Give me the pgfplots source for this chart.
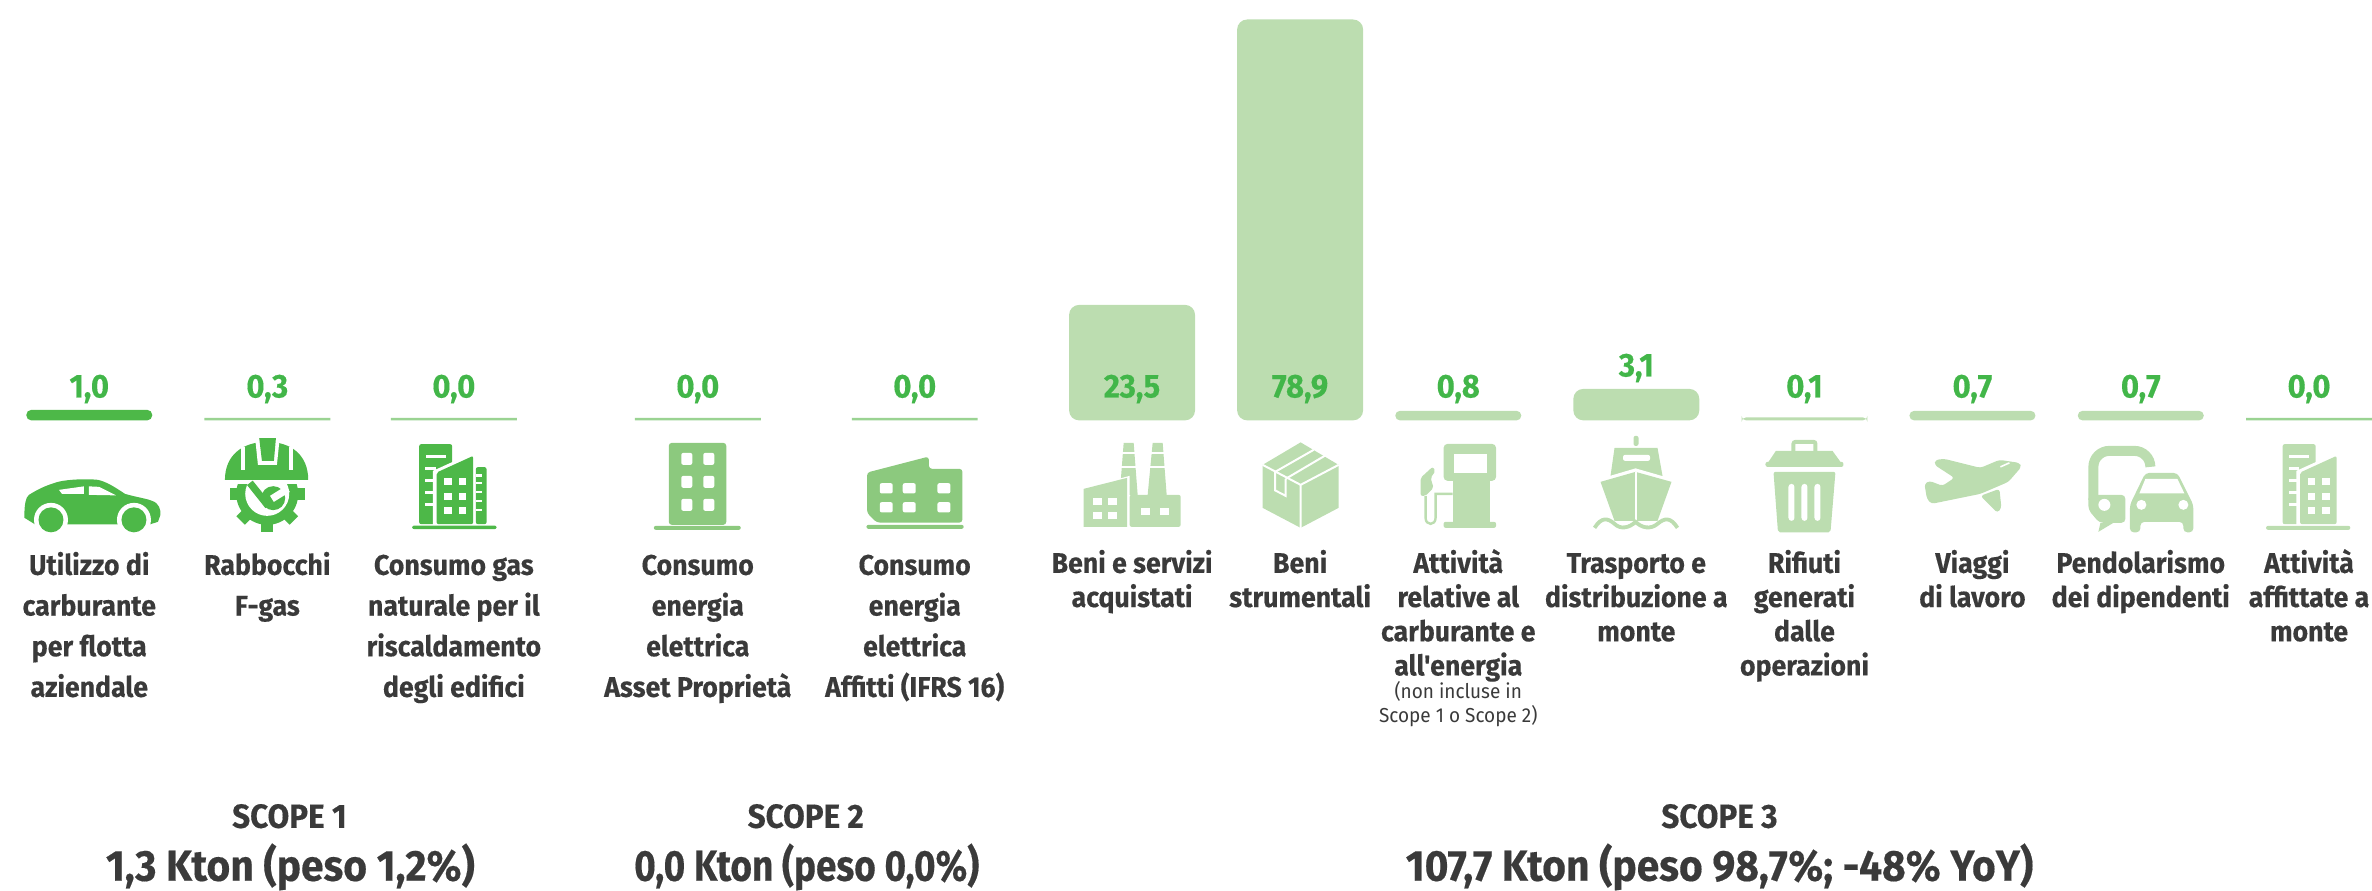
\documentclass[border=0pt]{standalone}
\usepackage{fontspec}
\usepackage{pgfplots}
\usepackage{pgfplotstable}
\pgfplotsset{compat=1.18}
\newfontfamily\tfont[FakeStretch=0.94,BoldFeatures={FakeBold=0.35}]{Fira Sans}
\definecolor{sdark}{HTML}{4DB848}
\definecolor{smid}{HTML}{8CC97E}
\definecolor{slight}{HTML}{BCDDB0}
\definecolor{thinmid}{HTML}{9AD392}
\definecolor{lab}{HTML}{42B649}
\definecolor{txt}{HTML}{3A3A3A}

% bar heights as drawn, in picture pixels above the base line
\pgfplotstableread{
x h
89.3 10.5
}\barsdark
\pgfplotstableread{
x h
267.4 2.5
454 2.5
698 2.5
915 2.5
2309.7 2.5
}\barsmid
\pgfplotstableread{
x h
1132.4 115.5
1300.5 401
1636.8 31.5
}\barslight
\pgfplotstableread{
x h
1458.7 9.5
1805 3
1973 9.5
2141.4 9.5
}\barslow
\pgfplotstableread{
x ly v
89.3 22.5 1,0
267.4 22.5 0,3
454 22.5 0,0
698 22.5 0,0
915 22.5 0,0
1132.4 22.5 23,5
1300.5 22.5 78,9
1458.7 22.5 0,8
1636.8 43.5 3,1
1805 22.5 0,1
1973 22.5 0,7
2141.4 22.5 0,7
2309.7 22.5 0,0
}\barlabels

\newcommand\cat[4]{\foreach \t [count=\i from 0] in {#4} \node[catl] at (#1,{#2+\i*#3}) {\t};}

% tall building with slanted block, used for icons 3 and 13
\newcommand\towerb[2]{
\begin{scope}[shift={(#2,0)}]
\fill[#1,rounded corners=1pt] (419.3,444.3) rectangle (452.3,524.3);
\fill[white] (426,454.7) rectangle (445.7,458.3);
\foreach \y in {468.3,480.7,492.3,504.7} \fill[white] (425.3,\y-1.5) rectangle (436,\y+1.5);
\fill[white] (433,471) -- (475,452) -- (475,527) -- (433,527) -- cycle;
\fill[#1,rounded corners=1pt] (436.7,524.3) -- (436.7,472.7) -- (473.3,456) -- (473.3,524.3) -- cycle;
\foreach \y in {477.7,492.7,507.3} \foreach \x in {444.3,458.7}
  \fill[white] (\x,\y) rectangle (\x+7.6,\y+7.3);
\end{scope}}

\begin{document}
\begin{tikzpicture}
\begin{scope}[x=0.5pt,y=-0.5pt,shift={(0,445.5pt)}]
\path[use as bounding box] (0,0) rectangle (2372,891);
\end{scope}
\begin{axis}[
    at={(0,0)},anchor=south west,
    scale only axis,width=1186pt,height=445.5pt,
    hide axis,clip=false,
    xmin=0,xmax=2372,ymin=-470.5,ymax=420.5]
\addplot[ybar,bar shift=0pt,bar width=63pt,fill=sdark,draw=none,rounded corners=2.5pt] table[x=x,y=h] {\barsdark};
\addplot[ybar,bar shift=0pt,bar width=63pt,fill=thinmid,draw=none] table[x=x,y=h] {\barsmid};
\addplot[ybar,bar shift=0pt,bar width=63pt,fill=slight,draw=none,rounded corners=5pt] table[x=x,y=h] {\barslight};
\addplot[ybar,bar shift=0pt,bar width=63pt,fill=slight,draw=none,rounded corners=2.3pt] table[x=x,y=h] {\barslow};
\addplot[only marks,mark=none,point meta=explicit symbolic,nodes near coords,
    every node near coord/.style={inner sep=0pt,text depth=0pt,text=lab,
      font=\tfont\bfseries\fontsize{16.5}{18}\selectfont}]
    table[x=x,y=ly,meta=v] {\barlabels};
\end{axis}
\begin{scope}[x=0.5pt,y=-0.5pt,shift={(0,445.5pt)},
    catl/.style={anchor=base,inner sep=0pt,text=txt,font=\tfont\bfseries\fontsize{14.2}{16}\selectfont},
    smalll/.style={anchor=base,inner sep=0pt,text=txt,font=\tfont\fontsize{10.1}{12}\selectfont},
    sc/.style={anchor=base,inner sep=0pt,text=txt,font=\tfont\bfseries\fontsize{16.7}{18}\selectfont},
    kt/.style={anchor=base,inner sep=0pt,text=txt,font=\tfont\bfseries\fontsize{21.7}{24}\selectfont}]
% category names
\cat{89.3}{575}{40.7}{Utilizzo di,carburante,per flotta,aziendale}
\cat{267.4}{575}{40.7}{Rabbocchi,F-gas}
\cat{454}{575}{40.7}{Consumo gas,naturale per il,riscaldamento,degli edifici}
\cat{698}{575}{40.7}{Consumo,energia,elettrica,Asset Proprietà}
\cat{915}{575}{40.7}{Consumo,energia,elettrica,Affitti (IFRS 16)}
\cat{1132.4}{573}{34.2}{Beni e servizi,acquistati}
\cat{1300.5}{573}{34.2}{Beni,strumentali}
\cat{1458.7}{573}{34.2}{Attività,relative al,carburante e,all'energia}
\node[smalll] at (1458.7,699) {(non incluse in};
\node[smalll] at (1458.7,723) {Scope 1 o Scope 2)};
\cat{1636.8}{573}{34.2}{Trasporto e,distribuzione a,monte}
\cat{1805}{573}{34.2}{Rifiuti,generati,dalle,operazioni}
\cat{1973}{573}{34.2}{Viaggi,di lavoro}
\cat{2141.4}{573}{34.2}{Pendolarismo,dei dipendenti}
\cat{2309.7}{573}{34.2}{Attività,affittate a,monte}
% scope totals
\node[sc] at (289.5,828) {SCOPE 1};
\node[kt] at (290.5,881) {1,3 Kton (peso 1,2\%)};
\node[sc] at (806,828) {SCOPE 2};
\node[kt] at (807,881) {\scalebox{0.905}[1]{0,0 Kton (peso 0,0\%)}};
\node[sc] at (1720,828) {SCOPE 3};
\node[kt] at (1720,881) {107,7 Kton (peso 98,7\%; -48\% YoY)};

% car
\fill[sdark] (24.5,518) .. controls (24,505) and (26,497) .. (29,495) .. controls (40,488) and (48,485) .. (58,482)
  .. controls (70,479) and (90,479) .. (98,480) .. controls (107,482) and (116,488) .. (125,494)
  .. controls (135,497) and (148,499) .. (152,501) .. controls (159,503) and (161,510) .. (160.5,515)
  -- (158,522) -- (150,524.5) -- (35,524.5) -- cycle;
\fill[white] (59,490) -- (84,486.5) -- (84,494) -- (62,494) -- cycle;
\fill[white] (89,486.5) -- (99,487) -- (116,495.5) -- (89,495) -- cycle;
\foreach \x in {51,134} {\fill[white] (\x,520) circle (17); \fill[sdark] (\x,520) circle (12.5);}

% helmet and gear
\fill[sdark] (267.3,494) circle (31);
\foreach \a in {0,45,...,315} \fill[sdark,rotate around={\a:(267.3,494)}] (261.3,490) rectangle (273.3,531.7);
\fill[white] (267.3,494) circle (22);
\fill[white] (220,430) rectangle (315,484);
\fill[sdark] (225,480) .. controls (225,455) and (243,442) .. (267,442) .. controls (291,442) and (308.3,455) .. (308.3,480) -- cycle;
\draw[white,line width=1.6pt] (243,447) -- (243,470) (291,447) -- (291,470);
\fill[white] (255,436) -- (280,436) -- (277,465) -- (258,465) -- cycle;
\fill[sdark] (259.3,438.3) -- (276,438.3) -- (274,461) -- (262,461) -- cycle;
\draw[sdark,line width=3.6pt] (250,483) -- (268.3,506);
\fill[sdark] (273.3,498.3) circle (12);
\draw[white,line width=3.6pt] (272,499) -- (288,489);

% first tall building with side block
\towerb{sdark}{0}
\fill[sdark,rounded corners=1pt] (476,467.3) rectangle (486.7,524.3);
\foreach \y in {475.7,483.3,492.3,501,510} \fill[white] (476,\y-1.2) rectangle (481.7,\y+1.2);
\fill[sdark,rounded corners=1pt] (412.3,525.7) rectangle (496.7,529.3);

% office block
\fill[smid,rounded corners=1.5pt] (669,443) rectangle (726.5,525);
\foreach \y in {459,482,505} \foreach \x in {687,709} \fill[white,rounded corners=1pt] (\x-5.5,\y-6) rectangle (\x+5.5,\y+6);
\fill[smid,rounded corners=1pt] (654,526) rectangle (741,530);

% shed
\fill[smid,rounded corners=1.5pt] (867.3,472.7) -- (929,456.7) -- (929.3,469) -- (962.7,469) -- (962.7,522.7) -- (877,522.7) -- (867.3,513) -- cycle;
\foreach \y in {483.3,502.3} \foreach \x in {880,903,937.7} \fill[white,rounded corners=1pt] (\x,\y) rectangle (\x+13,\y+10.3);
\fill[smid,rounded corners=1pt] (866.7,525) rectangle (964,529);

% factory
\foreach \a/\b/\c/\d in {1124/1134/1120/1138,1153/1163/1148/1167} {
  \fill[slight] (\a,443) -- (\b,443) -- (\d,495) -- (\c,495) -- cycle;
  \draw[white,line width=0.8pt] (\c-2,453) -- (\d+2,453) (\c-2,467) -- (\d+2,467);}
\fill[white] (1081,489) -- (1130,476) -- (1130,530) -- (1081,530) -- cycle;
\fill[slight] (1084,489) -- (1127.5,478) -- (1127.5,527) -- (1084,527) -- cycle;
\fill[slight,rounded corners=1pt] (1130,495) -- (1181,495) -- (1181,527) -- (1130,527) -- cycle;
\foreach \y in {502,516} \foreach \x in {1098,1113} \fill[white] (\x-4.5,\y-3.5) rectangle (\x+4.5,\y+3.5);
\foreach \x in {1146,1165} \fill[white] (\x-4.5,508.5) rectangle (\x+4.5,515.5);

% box
\fill[slight] (1301,442.5) -- (1339,465) -- (1339,508) -- (1301,528) -- (1263,508) -- (1263,465) -- cycle;
\draw[white,line width=1pt] (1263,465) -- (1301,485) -- (1339,465) (1301,485) -- (1301,528);
\draw[white,line width=1pt] (1275.5,472) -- (1314,450) (1286,479) -- (1325,456);
\draw[white,line width=1pt] (1275.5,472) -- (1275.5,490.5) -- (1286,496) -- (1286,479);

% fuel pump
\fill[slight,rounded corners=2pt] (1444,444) rectangle (1496.5,481);
\fill[slight] (1453,478) rectangle (1490,525);
\fill[slight,rounded corners=1pt] (1444,522) rectangle (1496.5,528);
\fill[white] (1454,454) rectangle (1487,473);
\fill[slight,rounded corners=1pt] (1421,478) -- (1433,467) -- (1436,471) -- (1431,478) -- (1434,488) -- (1426,496) -- (1421,496) -- cycle;
\draw[slight,line width=1.2pt] (1426,496) -- (1426,518) .. controls (1426,526) and (1436,526) .. (1436,518) -- (1436,494) -- (1453,494);

% ship
\fill[slight,rounded corners=1pt] (1634,436) rectangle (1639,446);
\fill[slight] (1615,448) -- (1658,448) -- (1663,476) -- (1611,476) -- cycle;
\fill[white,rounded corners=1pt] (1623.5,455) rectangle (1650.5,461);
\fill[white] (1597,480) -- (1636,468.5) -- (1676,480) -- (1660,524) -- (1613,524) -- cycle;
\fill[slight] (1601,482) -- (1636,472) -- (1672,482) -- (1658,521) -- (1615,521) -- cycle;
\draw[white,line width=1pt] (1636,472) -- (1636,522);
\draw[slight,line width=1.9pt] (1595,528) .. controls (1602,517) and (1608,518) .. (1615,524) .. controls (1621,530) and (1630,528) .. (1636,522)
  .. controls (1642,528) and (1651,530) .. (1658,524) .. controls (1665,518) and (1671,517) .. (1678,528);

% bin
\draw[slight,line width=2pt,rounded corners=1pt] (1794,451) -- (1794,442) -- (1816,442) -- (1816,451);
\fill[slight] (1776.4,451) -- (1833,451) -- (1841,462) -- (1769,462) -- cycle;
\fill[slight,rounded corners=1pt] (1766,462) rectangle (1844,467);
\fill[slight,rounded corners=1pt] (1774,472) -- (1836,472) -- (1831,532.5) -- (1778.5,532.5) -- cycle;
\foreach \x in {1792,1805,1818} \fill[white,rounded corners=1.5pt] (\x-3,484) rectangle (\x+3,521);

% plane
\fill[slight,rounded corners=1.5pt] (2020,463) -- (2000,460) -- (1981,468) -- (1945,459) -- (1936,460) -- (1935,465) -- (1955,478)
  -- (1943,486) -- (1930,481) -- (1925,484) -- (1927.5,499) -- (1932,504) -- (1981,494) -- (2009,482) -- (2022,467) -- cycle;
\fill[slight,rounded corners=1.5pt] (1981,496) -- (1998,513) -- (2002,508) -- (2000,489) -- cycle;
\draw[white,line width=0.8pt] (2001,467) -- (2010,463);

% bus and car
\draw[slight,line width=5pt,rounded corners=8pt] (2094,500) -- (2094,451) -- (2151,451) -- (2151,467);
\fill[slight,rounded corners=2pt] (2089,495) -- (2126,495) -- (2126,523) -- (2100,523) -- (2089,510) -- cycle;
\fill[slight] (2099,532) -- (2101,523) -- (2114,523) -- cycle;
\fill[white] (2105,505) circle (6);
\fill[slight,rounded corners=2pt] (2146,473) -- (2178,473) -- (2194,505) -- (2194,532.5) -- (2184,532.5) -- (2184,522) -- (2141,522) -- (2141,532.5) -- (2130.5,532.5) -- (2130.5,505) -- cycle;
\fill[white] (2146,479) -- (2178,479) -- (2185,493.5) -- (2140,493.5) -- cycle;
\foreach \x in {2142,2184} \fill[white] (\x,505) circle (5);

% last tall building
\towerb{slight}{1864}
\fill[slight,rounded corners=1pt] (2266.7,526) rectangle (2351,530);
\end{scope}
\end{tikzpicture}
\end{document}
